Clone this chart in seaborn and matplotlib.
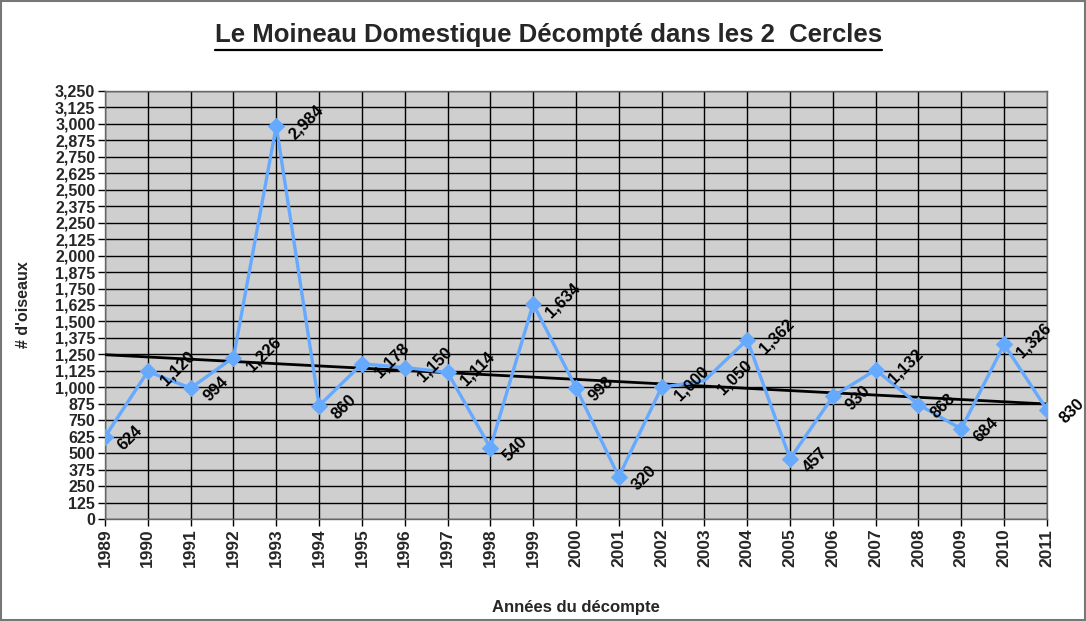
import numpy as np
import pandas as pd
import seaborn as sns
import matplotlib.pyplot as plt
from matplotlib.ticker import FuncFormatter, MultipleLocator
from matplotlib.patches import Rectangle
from matplotlib.lines import Line2D

# données
annees = list(range(1989, 2012))
oiseaux = [624, 1120, 994, 1226, 2984, 860, 1178, 1150, 1114, 540, 1634, 998,
           320, 1000, 1050, 1362, 457, 930, 1132, 868, 684, 1326, 830]
titre = "Le Moineau Domestique Décompté dans les 2  Cercles"
label_x = "Années du décompte"
label_y = "# d'oiseaux"

df = pd.DataFrame({"annee": annees, "nb": oiseaux})

sns.set_theme(style="white")
plt.rcParams['font.family'] = ['Liberation Sans', 'DejaVu Sans']

fig = plt.figure(figsize=(10.86, 6.21), dpi=100)
ax = fig.add_axes([0.0967, 0.1643, 0.8673, 0.6892])
ax.set_facecolor('#cfcfcf')

bleu = '#66aaff'
# pas de marqueur visible pour 2003 sur l'original
marques = [i for i in range(len(annees)) if annees[i] != 2003]
sns.lineplot(data=df, x="annee", y="nb", ax=ax, color=bleu, linewidth=2.4,
             marker='D', markersize=8, markeredgecolor=bleu, markevery=marques,
             zorder=4)

# droite de tendance
sns.regplot(data=df, x="annee", y="nb", ax=ax, scatter=False, ci=None,
            truncate=True, line_kws=dict(color='black', linewidth=2, zorder=3))

for a, v in zip(annees, oiseaux):
    ax.annotate(f"{v:,}", (a, v), xytext=(11, -8), textcoords='offset points',
                ha='left', va='center', rotation=45, rotation_mode='anchor',
                fontsize=12, fontweight='bold', color='black', zorder=5)

ax.set_xlim(1989, 2011)
ax.set_ylim(0, 3250)
ax.set_xticks(annees)
ax.set_xticklabels([str(a) for a in annees], rotation=90, fontsize=12.5,
                   fontweight='bold')
ax.yaxis.set_major_locator(MultipleLocator(125))
ax.yaxis.set_major_formatter(FuncFormatter(lambda v, p: f"{v:,.0f}"))
for t in ax.get_yticklabels():
    t.set_fontweight('bold')
    t.set_fontsize(11.5)
ax.tick_params(axis='both', direction='out', length=5, width=1, color='black',
               pad=2, left=True, bottom=True)
ax.grid(True, color='black', linewidth=1)
ax.set_axisbelow(True)
for s in ax.spines.values():
    s.set_color('#666666')
    s.set_linewidth(1)

ax.set_xlabel(label_x, fontsize=12, fontweight='bold')
ax.set_ylabel(label_y, fontsize=11.5, fontweight='bold')
ax.xaxis.set_label_coords(0.5, -0.19)
ax.yaxis.set_label_coords(-0.079, 0.5)

t = fig.text(0.505, 0.943, titre, ha='center', va='center', fontsize=18.5,
             fontweight='bold')
fig.canvas.draw()
bb = t.get_window_extent().transformed(fig.transFigure.inverted())
fig.add_artist(Line2D([bb.x0, bb.x1], [bb.y0 - 0.004, bb.y0 - 0.004],
                      transform=fig.transFigure, color='black', linewidth=1.6))

fig.add_artist(Rectangle((0.001, 0.001), 0.998, 0.997, transform=fig.transFigure,
                         fill=False, edgecolor='#777777', linewidth=1.5))

fig.savefig("out.png", dpi=100)
